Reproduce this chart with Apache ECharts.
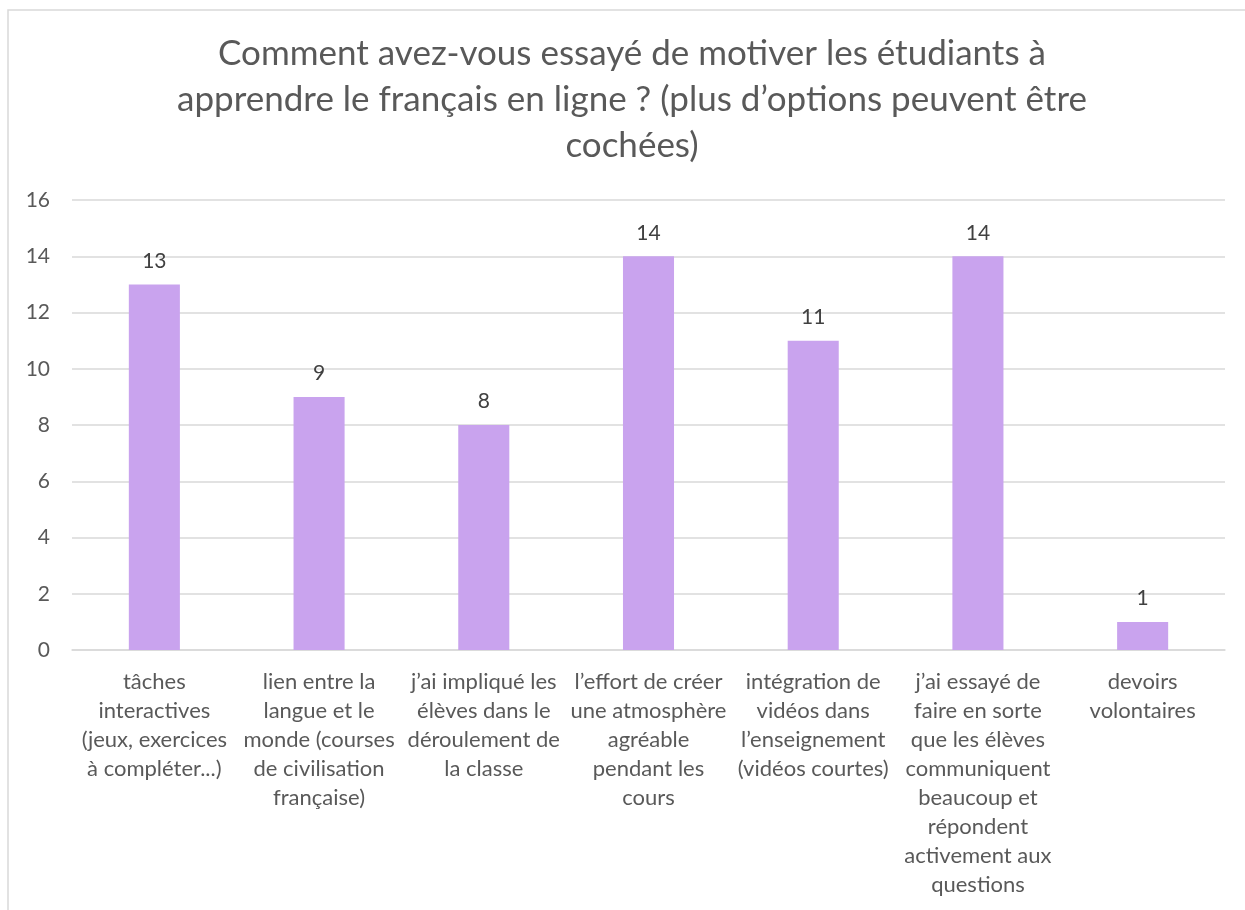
<!DOCTYPE html>
<html>
<head>
<meta charset="utf-8">
<script src="https://cdn.jsdelivr.net/npm/echarts@6/dist/echarts.min.js"></script>
<style>
  html, body { margin: 0; padding: 0; background: #ffffff; }
  #chart { width: 1245px; height: 910px; }
</style>
</head>
<body>
<div id="chart"></div>
<script>
// Survey: ways teachers tried to motivate students learning French online
const titleText = 'Comment avez-vous essayé de motiver les étudiants à\napprendre le français en ligne ? (plus d\u2019options peuvent être\ncochées)';

const categories = [
  't\u00e2ches\ninteractives\n(jeux, exercices\n\u00e0 compl\u00e9ter...)',
  'lien entre la\nlangue et le\nmonde (courses\nde civilisation\nfran\u00e7aise)',
  'j\u2019ai impliqu\u00e9 les\n\u00e9l\u00e8ves dans le\nd\u00e9roulement de\nla classe',
  'l\u2019effort de cr\u00e9er\nune atmosph\u00e8re\nagr\u00e9able\npendant les\ncours',
  'int\u00e9gration de\nvid\u00e9os dans\nl\u2019enseignement\n(vid\u00e9os courtes)',
  'j\u2019ai essay\u00e9 de\nfaire en sorte\nque les \u00e9l\u00e8ves\ncommuniquent\nbeaucoup et\nr\u00e9pondent\nactivement aux\nquestions',
  'devoirs\nvolontaires'
];

const counts = [13, 9, 8, 14, 11, 14, 1];

const yMin = 0;
const yMax = 16;
const yStep = 2;

const FONT = 'Lato';
const TEXT_GREY = '#595959';

const chart = echarts.init(document.getElementById('chart'), null, { renderer: 'canvas' });

chart.setOption({
  backgroundColor: '#ffffff',
  animation: false,
  textStyle: { fontFamily: FONT },
  graphic: [{
    type: 'rect',
    shape: { x: 8, y: 10, width: 1300, height: 1000 },
    style: { fill: 'none', stroke: '#d9d9d9', lineWidth: 1.5 },
    silent: true,
    z: -1
  }],
  title: {
    text: titleText,
    // centred on the middle of the framed chart area
    left: 632,
    textAlign: 'center',
    top: 31,
    padding: 0,
    textStyle: {
      fontFamily: FONT,
      fontSize: 35,
      fontWeight: 'normal',
      color: TEXT_GREY,
      lineHeight: 46
    }
  },
  grid: {
    left: 72,
    right: 20,
    top: 200,
    bottom: 260,
    containLabel: false
  },
  xAxis: {
    type: 'category',
    data: categories,
    axisLine: { show: true, lineStyle: { color: '#d9d9d9', width: 1.5 } },
    axisTick: { show: false },
    axisLabel: {
      interval: 0,
      margin: 17,
      fontFamily: FONT,
      fontSize: 22,
      lineHeight: 29,
      color: TEXT_GREY,
      align: 'center'
    }
  },
  yAxis: {
    type: 'value',
    min: yMin,
    max: yMax,
    interval: yStep,
    axisLine: { show: false },
    axisTick: { show: false },
    splitLine: { lineStyle: { color: '#d9d9d9', width: 1.5 } },
    axisLabel: {
      margin: 22,
      fontFamily: FONT,
      fontSize: 21,
      color: TEXT_GREY
    }
  },
  series: [{
    type: 'bar',
    data: counts,
    barWidth: '31%',
    itemStyle: { color: '#c9a3ee' },
    label: {
      show: true,
      position: 'top',
      distance: 13,
      fontFamily: FONT,
      fontSize: 21,
      color: '#404040'
    }
  }]
});
</script>
</body>
</html>
